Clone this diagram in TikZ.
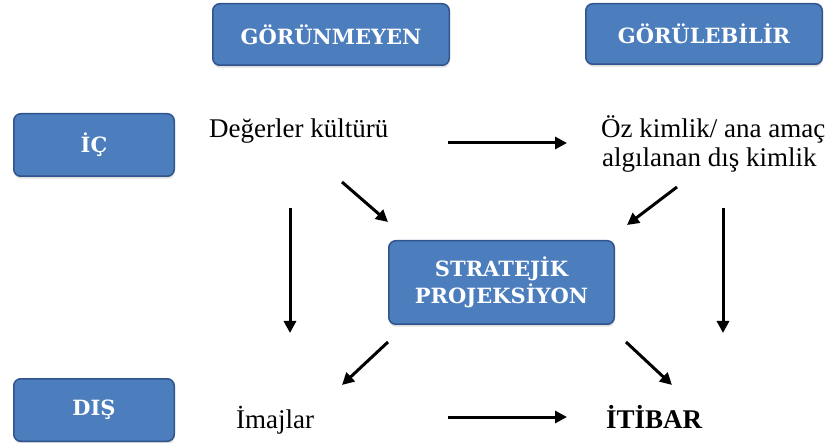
\documentclass[tikz,border=0pt]{standalone}
\usepackage{fontspec}
\setmainfont{Liberation Serif}
\newfontfamily\tabfont{DejaVu Serif}
\usetikzlibrary{arrows.meta,shadows}
\definecolor{tabblue}{RGB}{76,125,189}
\definecolor{tabedge}{RGB}{48,84,140}
\tikzset{
  tab/.style={shape=rectangle,rounded corners=7pt,draw=tabedge,line width=1.5pt,fill=tabblue,
    text=white,font=\tabfont\bfseries\fontsize{21}{27}\selectfont,align=center,inner sep=0pt,
    drop shadow={shadow xshift=0.5pt,shadow yshift=-2.5pt,opacity=0.25}},
  word/.style={font=\fontsize{27}{29}\selectfont,inner sep=0pt,anchor=base west},
  pointer/.style={->,line width=3pt},
}
\begin{document}
\begin{tikzpicture}[x=1pt,y=-1pt,>={Triangle[length=12pt,width=12pt]}]
\useasboundingbox (0,0) rectangle (827,443);
\node[tab,minimum width=236.5pt,minimum height=61.5pt] (gorunmeyen) at (331,34.5) {GÖRÜNMEYEN};
\node[tab,minimum width=236.5pt,minimum height=60.5pt] (gorulebilir) at (704,34) {GÖRÜLEBİLİR};
\node[tab,minimum width=160.5pt,minimum height=62.5pt] (ic) at (94,145) {İÇ};
\node[tab,minimum width=160.5pt,minimum height=62.5pt] (dis) at (94,410) {DIŞ};
\node[tab,minimum width=225.5pt,minimum height=83.5pt] (stratejik) at (501.5,282.5) {STRATEJİK\\PROJEKSİYON};
\node[word] (degerler) at (209,138) {Değerler kültürü};
\node[word] (ozkimlik) at (601,138) {Öz kimlik/ ana amaç};
\node[word] (algilanan) at (602,167) {algılanan dış kimlik};
\node[word] (imajlar) at (236,428) {İmajlar};
\node[word,font=\fontsize{27}{29}\selectfont\bfseries] (itibar) at (606,428) {İTİBAR};
\coordinate (t1) at (448,143);
\coordinate (t2) at (567,143);
\coordinate (b1) at (448,417);
\coordinate (b2) at (567,417);
\coordinate (l1) at (290,208);
\coordinate (l2) at (290,333);
\coordinate (r1) at (723,208);
\coordinate (r2) at (723,333);
\coordinate (d1) at (342,182);
\coordinate (d2) at (388,222);
\coordinate (e1) at (677,187);
\coordinate (e2) at (627,225);
\coordinate (f1) at (388,342);
\coordinate (f2) at (342,385);
\coordinate (g1) at (626,342);
\coordinate (g2) at (672,385);
\path [pointer] (t1) edge (t2);
\path [pointer] (b1) edge (b2);
\path [pointer] (l1) edge (l2);
\path [pointer] (r1) edge (r2);
\path [pointer] (d1) edge (d2);
\path [pointer] (e1) edge (e2);
\path [pointer] (f1) edge (f2);
\path [pointer] (g1) edge (g2);
\end{tikzpicture}
\end{document}
